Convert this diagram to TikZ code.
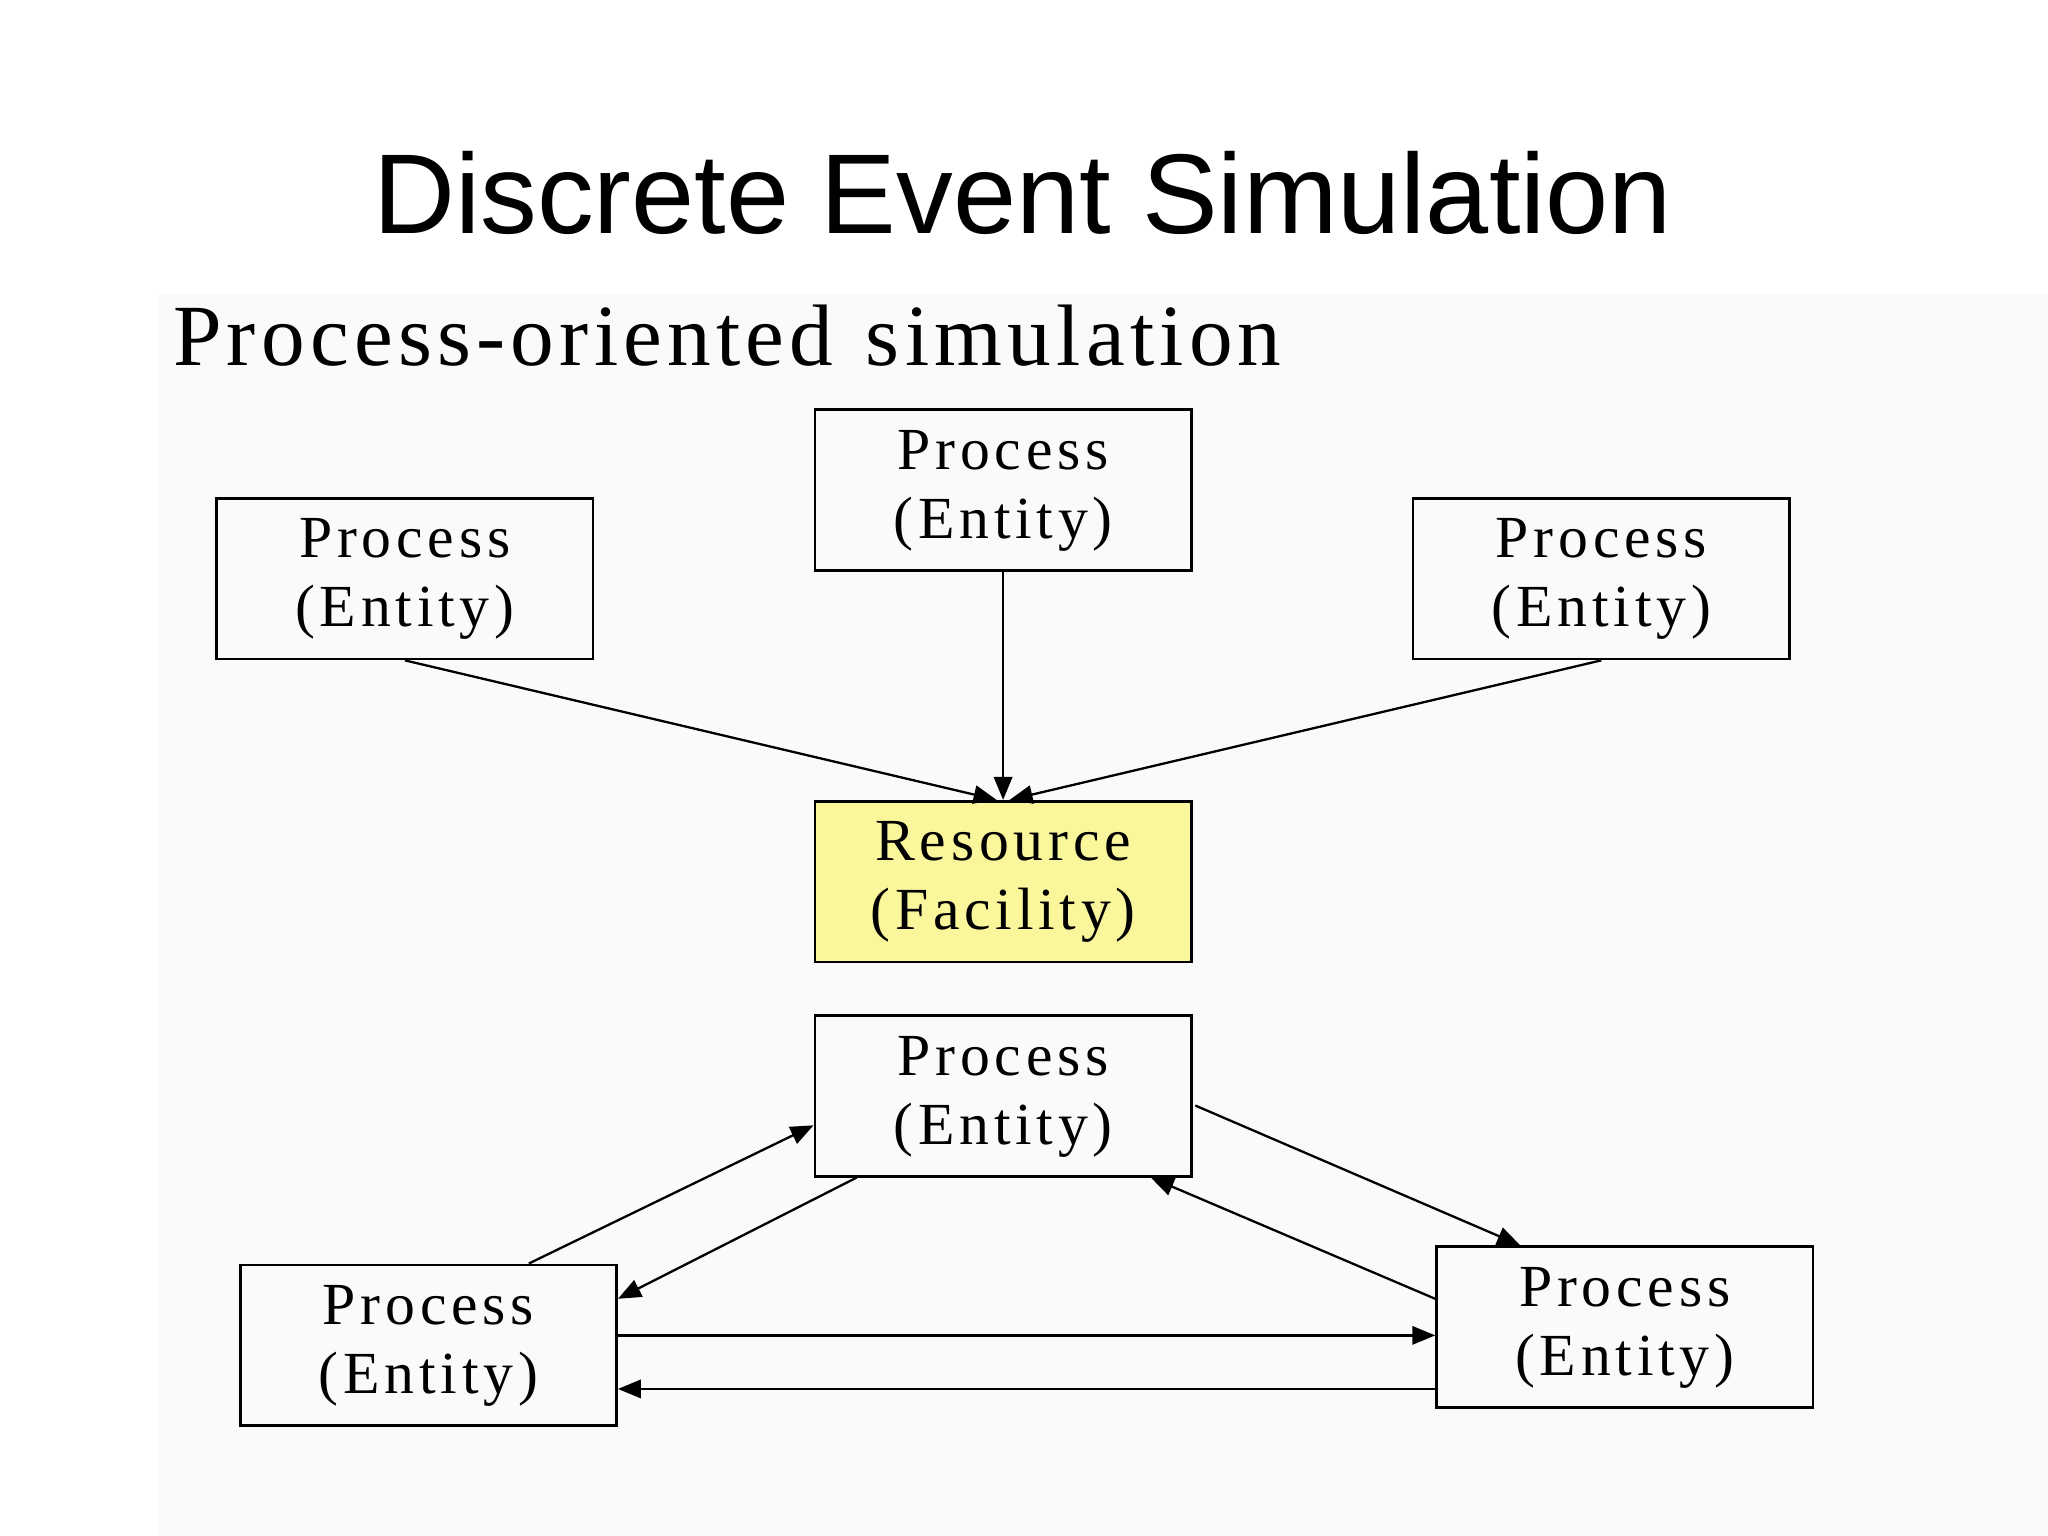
\documentclass[tikz,border=0pt]{standalone}
\usepackage{fontspec}
\setmainfont{Liberation Serif}
\newfontfamily\titlefont{Liberation Sans}
\newfontfamily\boxfont[LetterSpace=8]{Liberation Serif}
\newfontfamily\subfont[LetterSpace=6,WordSpace=1.2]{Liberation Serif}
\newcommand{\twolines}[2]{\raisebox{-0.06cm}{\begin{tabular}{@{}c@{}}#1\\#2\end{tabular}}}
\usetikzlibrary{calc,arrows.meta}
\begin{document}
\begin{tikzpicture}[x=0.01cm,y=-0.01cm,
  box/.style={draw,line width=0.6pt,minimum width=2.88cm,minimum height=1.23cm,inner sep=0pt,align=center,font=\boxfont\fontsize{13pt}{15pt}\selectfont},
  arr/.style={-{Triangle[length=5pt,width=4pt]},line width=0.5pt}]
\useasboundingbox (0,0) rectangle (1568,1176);
\fill[white] (0,0) rectangle (1568,1176);
\fill[black!2] (122,225) rectangle (1568,1176);
\node[font=\titlefont\fontsize{24.7pt}{28pt}\selectfont] (title) at (783,148) {Discrete Event Simulation};
\node[anchor=west,font=\subfont\fontsize{19pt}{22pt}\selectfont,inner sep=0pt] (sub) at (132,257) {Process-oriented simulation};
\node[box] (tc) at (768,375) {\twolines{Process}{(Entity)}};
\node[box] (tl) at (310,443) {\twolines{Process}{(Entity)}};
\node[box] (tr) at (1226,443) {\twolines{Process}{(Entity)}};
\node[box,fill={rgb,255:red,250;green,246;blue,155}] (res) at (768,675) {\twolines{Resource}{(Facility)}};
\node[box] (mid) at (768,839) {\twolines{Process}{(Entity)}};
\node[box] (bl) at (328,1030) {\twolines{Process}{(Entity)}};
\node[box] (br) at (1244,1016) {\twolines{Process}{(Entity)}};
\draw[arr] (tl.south) -- ($(res.north)+(-5,0)$);
\draw[arr] (tc.south) -- (res.north);
\draw[arr] (tr.south) -- ($(res.north)+(5,0)$);
\draw[arr] ($(bl.north west)+(222,0)$) -- ($(mid.south west)+(0,-40)$);
\draw[arr] ($(mid.south west)+(33,0)$) -- ($(bl.north east)+(0,27)$);
\draw[arr] ($(mid.north east)+(2,70)$) -- ($(br.north west)+(65,0)$);
\draw[arr] ($(br.north west)+(0,41)$) -- ($(mid.south east)+(-32,0)$);
\draw[arr] ($(bl.north east)+(0,55)$) -- ($(br.north west)+(0,69)$);
\draw[arr] ($(br.north west)+(0,110)$) -- ($(bl.north east)+(0,96)$);
\end{tikzpicture}
\end{document}
